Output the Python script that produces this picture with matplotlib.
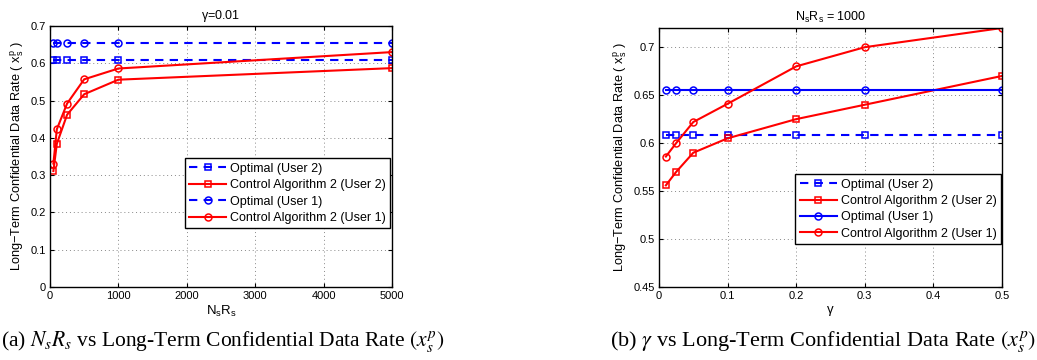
import matplotlib
matplotlib.use('Agg')
import matplotlib.pyplot as plt

plt.rcParams['font.family'] = ['Liberation Sans', 'DejaVu Sans']
plt.rcParams['mathtext.fontset'] = 'stix'

# (a) gamma = 0.01, x = NsRs
nsrs = [50, 100, 250, 500, 1000, 5000]
opt_u2_a = [0.608] * 6
ctrl_u2_a = [0.311, 0.384, 0.462, 0.517, 0.556, 0.587]
opt_u1_a = [0.655] * 6
ctrl_u1_a = [0.331, 0.423, 0.492, 0.557, 0.586, 0.630]

# (b) NsRs = 1000, x = gamma
gamma = [0.01, 0.025, 0.05, 0.1, 0.2, 0.3, 0.5]
opt_u2_b = [0.608] * 7
ctrl_u2_b = [0.556, 0.570, 0.590, 0.605, 0.625, 0.640, 0.670]
opt_u1_b = [0.655] * 7
ctrl_u1_b = [0.586, 0.600, 0.622, 0.641, 0.680, 0.700, 0.720]

labels = ['Optimal (User 2)', 'Control Algorithm 2 (User 2)',
          'Optimal (User 1)', 'Control Algorithm 2 (User 1)']

dash = (0, (4, 3))
ylab = r'Long$\mathregular{-}$Term Confidential Data Rate ( x$\mathregular{_s^p}$ )'

fig = plt.figure(figsize=(10.37, 3.6), dpi=100)
ax1 = fig.add_axes([0.0482, 0.2028, 0.3298, 0.725])
ax2 = fig.add_axes([0.6355, 0.2028, 0.3307, 0.7194])


def style(ax):
    ax.grid(True, linestyle=(0, (1, 3)), color='#888888', linewidth=0.7)
    ax.tick_params(direction='in', top=True, right=True, labelsize=8,
                   length=3, width=0.8, pad=3)
    for s in ax.spines.values():
        s.set_linewidth(1.0)
    ax.set_axisbelow(True)


kw = dict(markerfacecolor='none', markersize=5, markeredgewidth=1.1, linewidth=1.5)
legkw = dict(loc='lower right', fontsize=9, fancybox=False, framealpha=1,
             edgecolor='black', handlelength=3, labelspacing=0.35, borderpad=0.35,
             handletextpad=0.3, borderaxespad=0)

# left panel
ax1.plot(nsrs, opt_u2_a, color='blue', linestyle=dash, marker='s', label=labels[0], **kw)
ax1.plot(nsrs, ctrl_u2_a, color='red', linestyle='-', marker='s', label=labels[1], **kw)
ax1.plot(nsrs, opt_u1_a, color='blue', linestyle=dash, marker='o', label=labels[2], **kw)
ax1.plot(nsrs, ctrl_u1_a, color='red', linestyle='-', marker='o', label=labels[3], **kw)
ax1.set_xlim(0, 5000)
ax1.set_ylim(0, 0.7)
ax1.set_xticks([0, 1000, 2000, 3000, 4000, 5000])
ax1.set_yticks([0, 0.1, 0.2, 0.3, 0.4, 0.5, 0.6, 0.7])
ax1.set_yticklabels(['0', '0.1', '0.2', '0.3', '0.4', '0.5', '0.6', '0.7'])
style(ax1)
ax1.set_title(r'$\mathregular{\gamma}$=0.01', fontsize=9, pad=5)
ax1.set_xlabel(r'N$\mathregular{_s}$R$\mathregular{_s}$', fontsize=9.5, labelpad=2)
ax1.set_ylabel(ylab, fontsize=9.2, labelpad=3)
leg = ax1.legend(bbox_to_anchor=(0.995, 0.225), **legkw)
leg.get_frame().set_linewidth(1.0)

# right panel
ax2.plot(gamma, opt_u2_b, color='blue', linestyle=dash, marker='s', label=labels[0], **kw)
ax2.plot(gamma, ctrl_u2_b, color='red', linestyle='-', marker='s', label=labels[1], **kw)
ax2.plot(gamma, opt_u1_b, color='blue', linestyle='-', marker='o', label=labels[2], **kw)
ax2.plot(gamma, ctrl_u1_b, color='red', linestyle='-', marker='o', label=labels[3], **kw)
ax2.set_xlim(0, 0.5)
ax2.set_ylim(0.45, 0.72)
ax2.set_xticks([0, 0.1, 0.2, 0.3, 0.4, 0.5])
ax2.set_xticklabels(['0', '0.1', '0.2', '0.3', '0.4', '0.5'])
ax2.set_yticks([0.45, 0.5, 0.55, 0.6, 0.65, 0.7])
ax2.set_yticklabels(['0.45', '0.5', '0.55', '0.6', '0.65', '0.7'])
style(ax2)
ax2.set_title(r'N$\mathregular{_s}$R$\mathregular{_s}$ = 1000', fontsize=9, pad=5)
ax2.set_xlabel(r'$\mathregular{\gamma}$', fontsize=9.5, labelpad=2)
ax2.set_ylabel(ylab, fontsize=9.2, labelpad=3)
leg = ax2.legend(bbox_to_anchor=(0.997, 0.166), **legkw)
leg.get_frame().set_linewidth(1.0)

# captions
fig.text(1 / 1037, 1 - 341 / 360,
         r'(a) $N_sR_s$ vs Long-Term Confidential Data Rate $(x_s^p)$',
         family='Liberation Serif', fontsize=15.5, ha='left', va='center')
fig.text(823 / 1037, 1 - 341 / 360,
         r'(b) $\gamma$ vs Long-Term Confidential Data Rate $(x_s^p)$',
         family='Liberation Serif', fontsize=16, ha='center', va='center')

fig.savefig('out.png', dpi=100)
